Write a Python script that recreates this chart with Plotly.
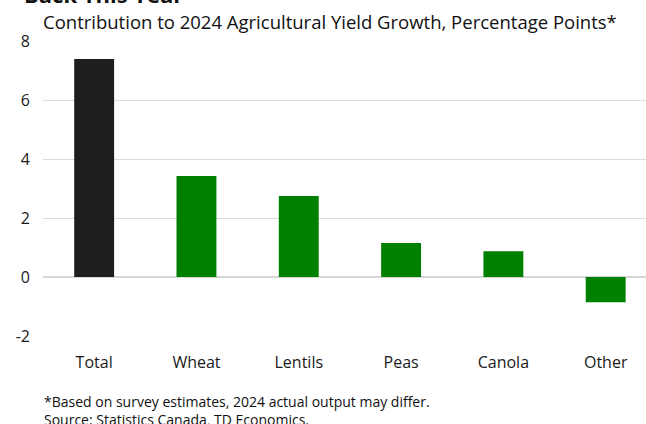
import plotly.graph_objects as go

categories = ["Total", "Wheat", "Lentils", "Peas", "Canola", "Other"]
values = [7.39, 3.42, 2.75, 1.15, 0.87, -0.86]
colors = ["#1e1e1e", "#008000", "#008000", "#008000", "#008000", "#008000"]
y_ticks = [-2, 0, 2, 4, 6, 8]

FONT = "Open Sans, sans-serif"

fig = go.Figure()
fig.add_trace(go.Bar(
    x=list(range(len(categories))), y=values,
    marker=dict(color=colors, line=dict(width=0)),
    width=0.39, hoverinfo="skip",
))

fig.update_layout(
    width=646, height=424,
    margin=dict(l=43, r=0, t=41, b=88),
    plot_bgcolor="white", paper_bgcolor="white",
    showlegend=False,
    font=dict(family=FONT, size=16, color="#1a1a1a"),
    xaxis=dict(
        range=[-0.5, 5.394], tickmode="array",
        tickvals=list(range(len(categories))), ticktext=categories,
        showgrid=False, zeroline=False, showline=False, ticks="",
        ticklabelstandoff=15,
        tickfont=dict(size=16, color="#1a1a1a"),
    ),
    yaxis=dict(
        range=[-2, 8], tickmode="array", tickvals=y_ticks,
        ticktext=[str(v) for v in y_ticks],
        showgrid=True, gridcolor="#dcdcdc", gridwidth=1,
        zeroline=True, zerolinecolor="#d6d6d6", zerolinewidth=2,
        showline=False, ticks="", ticklabelstandoff=12,
        tickfont=dict(size=16, color="#1a1a1a"),
    ),
    annotations=[
        dict(text="<b>Back This Year</b>", xref="paper", yref="paper",
             x=-0.034, y=1.0, yshift=30, xanchor="left", yanchor="bottom",
             showarrow=False, font=dict(size=22, color="#111")),
        dict(text="Contribution to 2024 Agricultural Yield Growth, Percentage Points*",
             xref="paper", yref="paper", x=-0.004, y=1.0, yshift=5,
             xanchor="left", yanchor="bottom", showarrow=False,
             font=dict(size=18.5, color="#111")),
        dict(text="*Based on survey estimates, 2024 actual output may differ."
                  "<br>Source: Statistics Canada, TD Economics.",
             xref="paper", yref="paper", x=-0.002, y=0, yshift=-54,
             xanchor="left", yanchor="top", align="left", showarrow=False,
             font=dict(size=14, color="#111")),
    ],
)

fig.write_html("out.html")
